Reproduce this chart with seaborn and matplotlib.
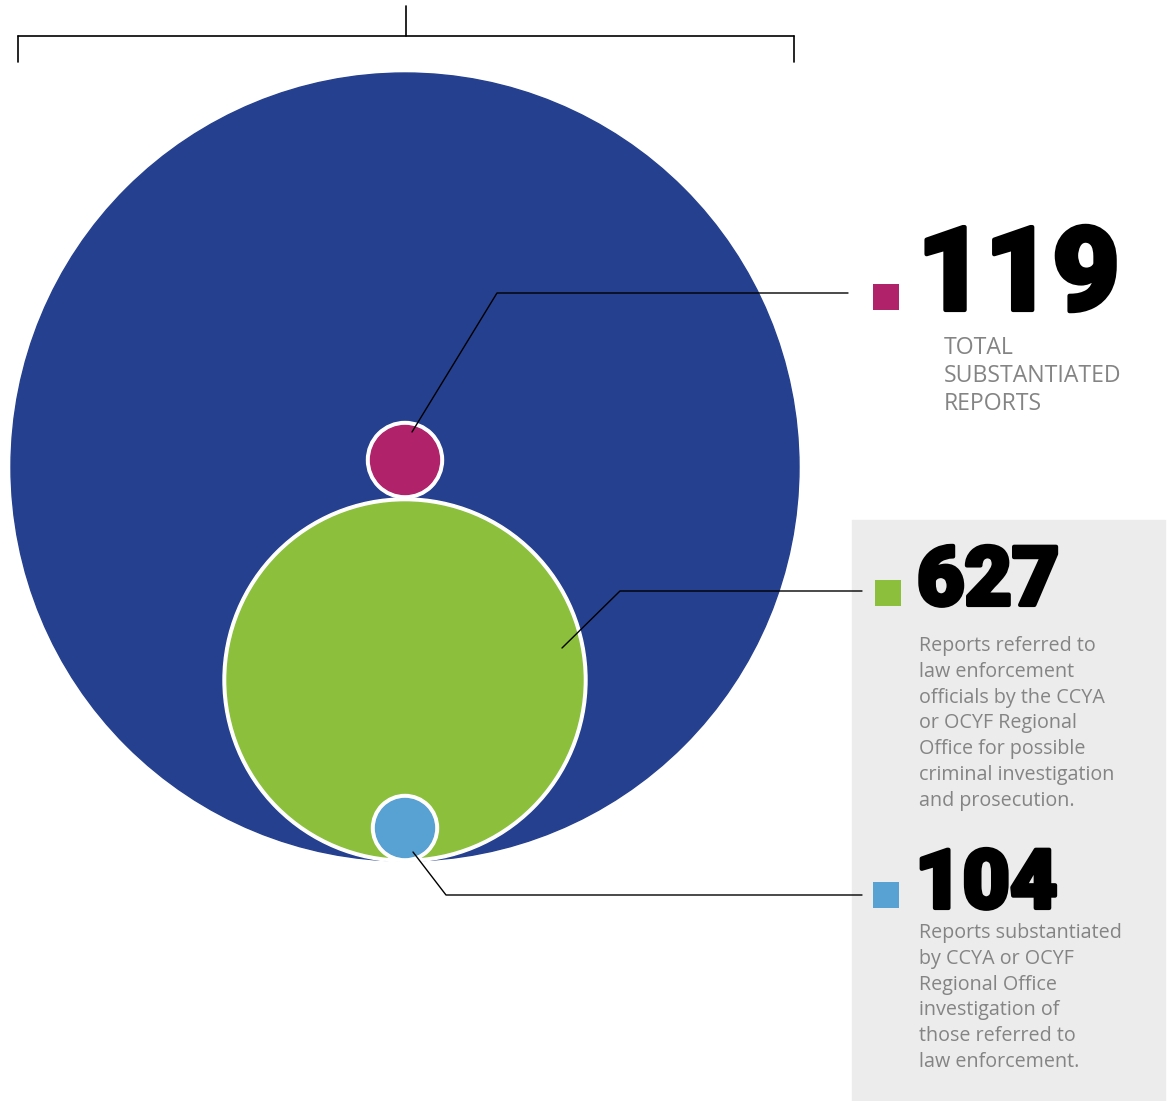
import matplotlib
matplotlib.use("Agg")
import matplotlib.pyplot as plt
from matplotlib.patches import Circle
import matplotlib.patheffects as pe
import seaborn as sns
import pandas as pd

# ---- data ----
values = [119, 627, 104]
value_labels = ["119", "627", "104"]
descriptions = [
    ["TOTAL", "SUBSTANTIATED", "REPORTS"],
    ["Reports referred to", "law enforcement", "officials by the CCYA",
     "or OCYF Regional", "Office for possible", "criminal investigation",
     "and prosecution."],
    ["Reports substantiated", "by CCYA or OCYF", "Regional Office",
     "investigation of", "those referred to", "law enforcement."],
]
colors = ["#b0226a", "#8cc03c", "#58a1d3"]
outer_color = "#25408f"

# ---- layout (pixel coordinates) ----
W, H = 1167, 1101
sns.set_theme(style="white")
plt.rcParams["font.family"] = ["Open Sans", "DejaVu Sans"]

fig = plt.figure(figsize=(W / 100, H / 100), dpi=100)
ax = fig.add_axes([0, 0, 1, 1])

# grey panel
ax.add_patch(plt.Rectangle((852, 520), 313, 581, color="#ececec", zorder=0))

# top bracket
ax.plot([406, 406], [6, 36], color="black", lw=1.2)
ax.plot([18, 794], [36, 36], color="black", lw=1.2)
ax.plot([18, 18], [36, 62], color="black", lw=1.2)
ax.plot([794, 794], [36, 62], color="black", lw=1.2)

# circles
ax.add_patch(Circle((405, 467), 394, color=outer_color, zorder=1))
centers = [(405, 460), (405, 680), (405, 828)]
radii = [34.5, 178, 29.5]
for k, ((cx, cy), r, c) in enumerate(zip(centers, radii, colors)):
    ax.add_patch(Circle((cx, cy), r + 4, color="white", zorder=2 + 2 * k))
    ax.add_patch(Circle((cx, cy), r, color=c, zorder=3 + 2 * k))

# leader lines
leaders = [
    [(412, 432), (497, 293), (848, 293)],
    [(562, 648), (620, 591), (862, 591)],
    [(413, 852), (446, 895), (862, 895)],
]
for pts in leaders:
    xs, ys = zip(*pts)
    ax.plot(xs, ys, color="black", lw=1.0, zorder=10)

# legend squares via seaborn
sq = pd.DataFrame({"x": [886, 888, 886], "y": [297, 593, 895], "cat": value_labels})
sns.scatterplot(data=sq, x="x", y="y", hue="cat", palette=dict(zip(value_labels, colors)),
                marker="s", s=330, linewidth=0, legend=False, ax=ax, zorder=11)
ax.set_xlim(0, W)
ax.set_ylim(H, 0)
ax.axis("off")

# big numbers
num_pos = [(917, 310, 84), (917, 605, 59), (915, 908, 59)]
for lab, (x, y, fs) in zip(value_labels, num_pos):
    ax.text(x, y, lab, fontsize=fs, fontweight="black", family=["Roboto", "DejaVu Sans"],
            color="black", va="baseline", ha="left",
            path_effects=[pe.withStroke(linewidth=3, foreground="black")])

# descriptions
desc_pos = [(944, 354, 28.0, 16.6), (919, 651, 25.8, 14.2), (919, 938, 25.8, 14.2)]
for lines, (x, y0, dy, fs) in zip(descriptions, desc_pos):
    for i, line in enumerate(lines):
        ax.text(x, y0 + i * dy, line, fontsize=fs, color="#848484",
                va="baseline", ha="left")

fig.savefig("out.png", dpi=100)
